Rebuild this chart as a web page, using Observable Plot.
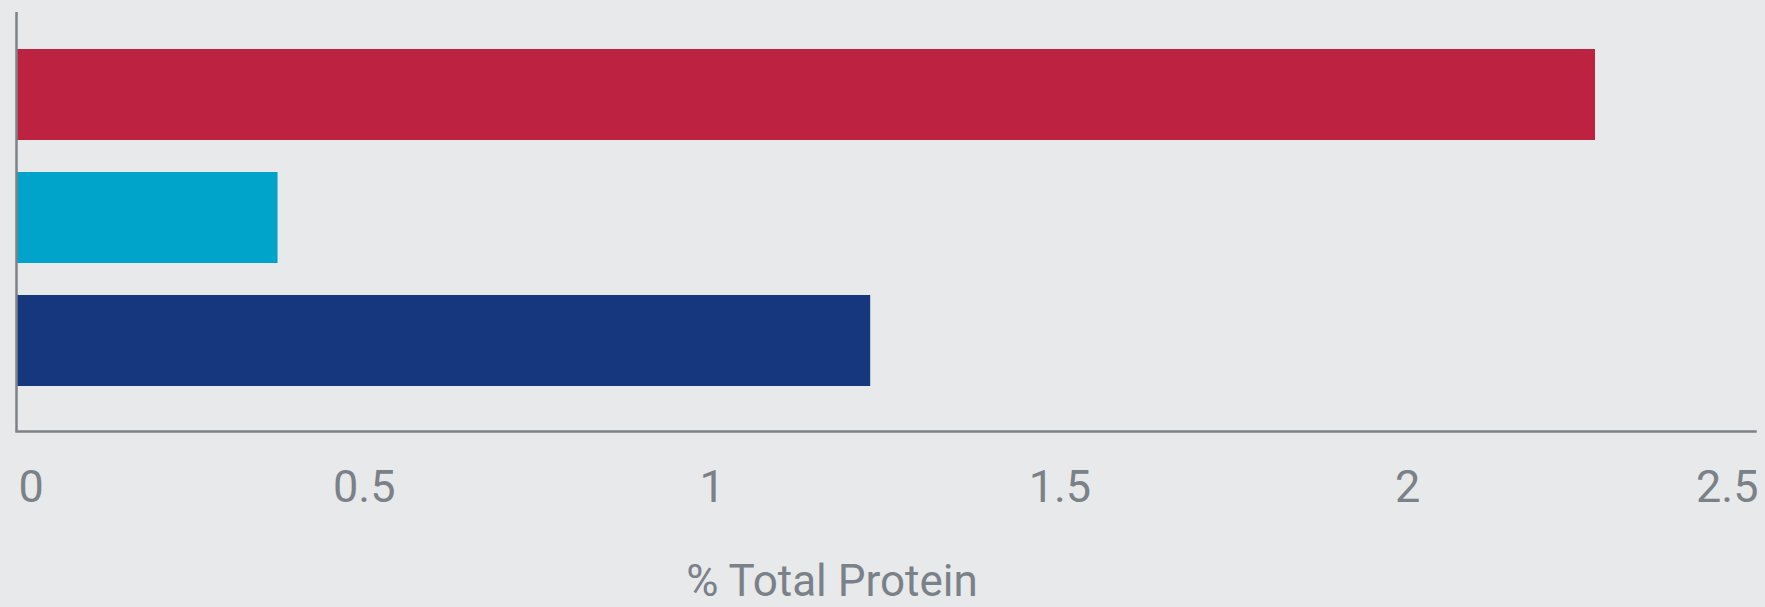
<!DOCTYPE html>
<html>
<head>
<meta charset="utf-8">
<script src="https://cdn.jsdelivr.net/npm/d3@7"></script>
<script src="https://cdn.jsdelivr.net/npm/@observablehq/plot@0.6"></script>
<style>
  html, body { margin: 0; padding: 0; background: #e8e9eb; }
  #chart svg { display: block; background: #e8e9eb; }
</style>
</head>
<body>
<div id="chart"></div>
<script>
const categories = ["Series A", "Series B", "Series C"];
const values = [2.27, 0.376, 1.228];
const barColors = ["#bd2341", "#00a4cb", "#16377d"];
const tickValues = [0, 0.5, 1, 1.5, 2, 2.5];
const tickLabels = ["0", "0.5", "1", "1.5", "2", "2.5"];
const axisTitle = "% Total Protein";

const data = categories.map((c, i) => ({category: c, value: values[i]}));
const ticks = tickValues.map((v, i) => ({v, label: tickLabels[i]}));
const first = ticks.slice(0, 1);
const middle = ticks.slice(1, -1);
const last = ticks.slice(-1);

const textColor = "#7b8188";
const font = "Roboto, 'Noto Sans', sans-serif";

const chart = Plot.plot({
  width: 1765,
  height: 607,
  marginLeft: 16,
  marginRight: 10,
  marginTop: 12,
  marginBottom: 176,
  style: {background: "#e8e9eb", fontFamily: font},
  x: {domain: [0, 2.5], axis: null},
  y: {domain: categories, axis: null, paddingInner: 0.263, paddingOuter: 0.328, align: 0.444},
  color: {domain: categories, range: barColors},
  marks: [
    Plot.barX(data, {x: "value", y: "category", fill: "category"}),
    Plot.ruleX([0], {stroke: "#7d8288", strokeWidth: 2.5}),
    Plot.frame({anchor: "bottom", stroke: "#7d8288", strokeWidth: 2.5}),
    Plot.text(first, {x: "v", text: "label", frameAnchor: "bottom", textAnchor: "start", lineAnchor: "middle", dx: 2, dy: 56, fill: textColor, fontSize: 45, fontFamily: font}),
    Plot.text(middle, {x: "v", text: "label", frameAnchor: "bottom", textAnchor: "middle", lineAnchor: "middle", dy: 56, fill: textColor, fontSize: 45, fontFamily: font}),
    Plot.text(last, {x: "v", text: "label", frameAnchor: "bottom", textAnchor: "end", lineAnchor: "middle", dx: 3, dy: 56, fill: textColor, fontSize: 45, fontFamily: font}),
    Plot.text([axisTitle], {frameAnchor: "bottom", textAnchor: "middle", lineAnchor: "middle", dx: -54, dy: 150, fill: textColor, fontSize: 44, fontFamily: font})
  ]
});
document.getElementById("chart").appendChild(chart);
</script>
</body>
</html>
